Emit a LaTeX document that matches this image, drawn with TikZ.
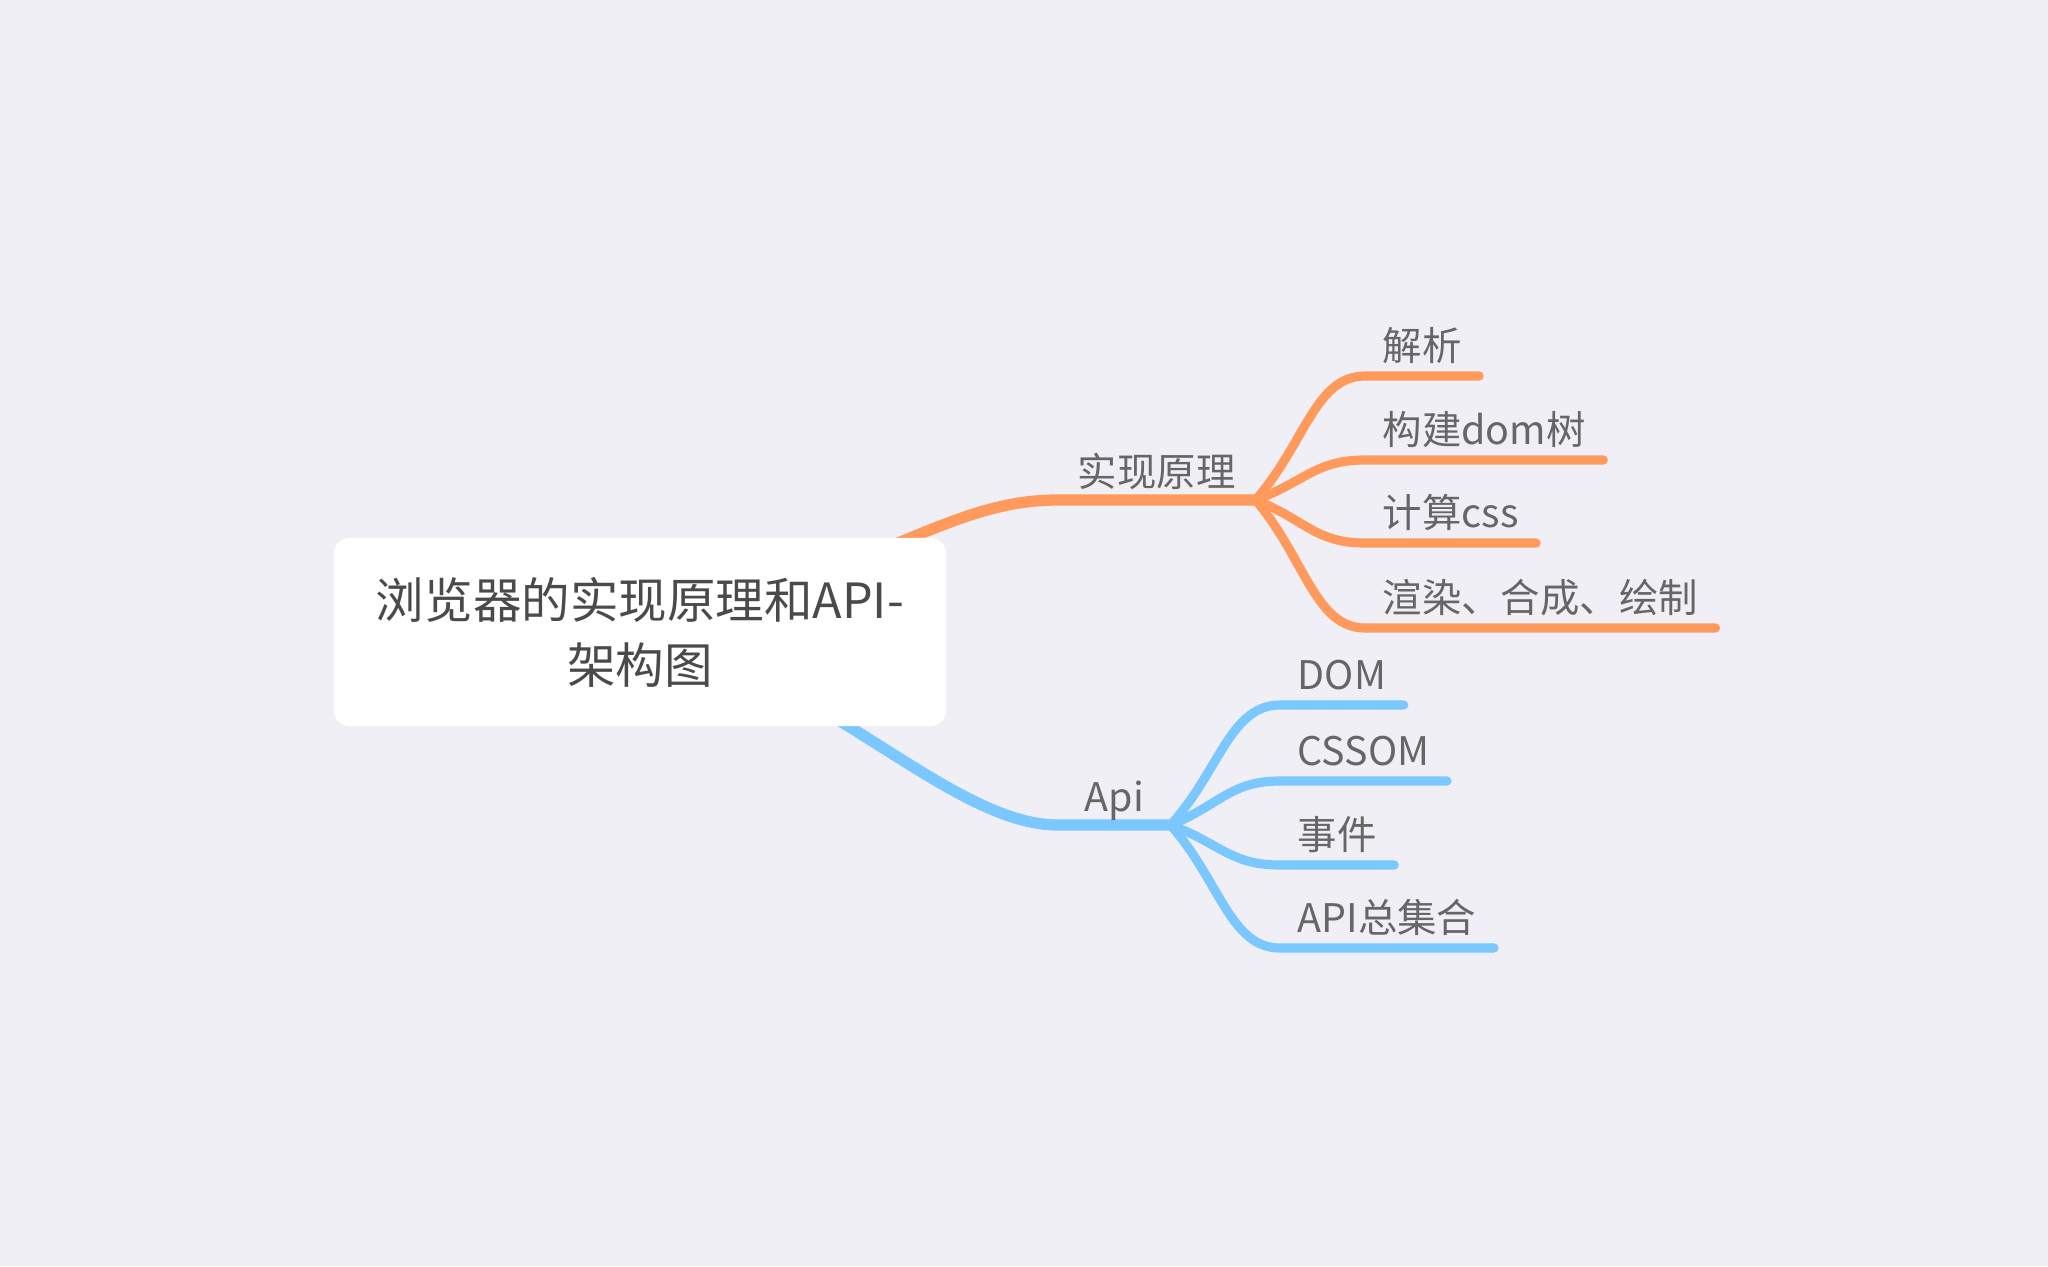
\documentclass[tikz,border=0pt]{standalone}
\usepackage{fontspec}
\setmainfont{Noto Sans CJK SC}
\usetikzlibrary{positioning,calc,backgrounds}

\definecolor{paper}{HTML}{EFEFF5}
\definecolor{implcol}{HTML}{FF9A5C}
\definecolor{apicol}{HTML}{7AC8FF}
\definecolor{labelcol}{HTML}{666666}
\definecolor{titlecol}{HTML}{4A4A4A}

\tikzset{
  title/.style={fill=white, rounded corners=0.16cm, minimum width=6.12cm, minimum height=1.88cm,
    align=center, text=titlecol, font=\fontsize{13.8pt}{18.5pt}\selectfont},
  branch/.style={anchor=south west, inner sep=0pt, text depth=0.13cm, text=labelcol,
    font=\fontsize{11.2pt}{13pt}\selectfont},
  leaf/.style={anchor=south west, inner xsep=0.17cm, inner ysep=0pt, text depth=0.15cm,
    text=labelcol, font=\fontsize{11.2pt}{13pt}\selectfont},
  mainline/.style={line width=3.2pt, line cap=round},
  twig/.style={line width=2.6pt, line cap=round},
}

\begin{document}
\begin{tikzpicture}[x=0.01cm, y=-0.01cm]
  \useasboundingbox (0,0) rectangle (2048,1266);

  % nodes
  \node[title] (root) at (640,632) {浏览器的实现原理和API-\\架构图};

  \node[branch, minimum width=1.96cm] (impl) at (1058,500) {实现原理};
  \node[branch, minimum width=1.11cm] (api) at (1058,825) {Api};

  \node[leaf] (parse)  at (1365,376) {解析};
  \node[leaf] (domtree) at (1365,460) {构建dom树};
  \node[leaf] (calccss) at (1365,543) {计算css};
  \node[leaf] (paint)  at (1365,628) {渲染、合成、绘制};

  \node[leaf] (dom)    at (1280,705) {DOM};
  \node[leaf] (cssom)  at (1280,781) {CSSOM};
  \node[leaf] (events) at (1280,865) {事件};
  \node[leaf] (apiall) at (1280,948) {API总集合};

  \begin{scope}[on background layer]
    \fill[paper] (0,0) rectangle (2048,1266);
    \draw[mainline, implcol] (root.center) .. controls +(250,-66) and +(-108,0) .. (impl.south west) -- (impl.south east);
    \draw[mainline, apicol] (root.center) .. controls +(180,40) and +(-108,0) .. (api.south west) -- (api.south east);
  \end{scope}

  % twigs
  \foreach \n in {parse,domtree,calccss,paint}
    \draw[twig, implcol] (impl.south east) .. controls ($(impl.south east)!0.45!(\n.south west)$) and +(-50,0) .. (\n.south west) -- (\n.south east);
  \foreach \n in {dom,cssom,events,apiall}
    \draw[twig, apicol] (api.south east) .. controls ($(api.south east)!0.45!(\n.south west)$) and +(-50,0) .. (\n.south west) -- (\n.south east);
\end{tikzpicture}
\end{document}
